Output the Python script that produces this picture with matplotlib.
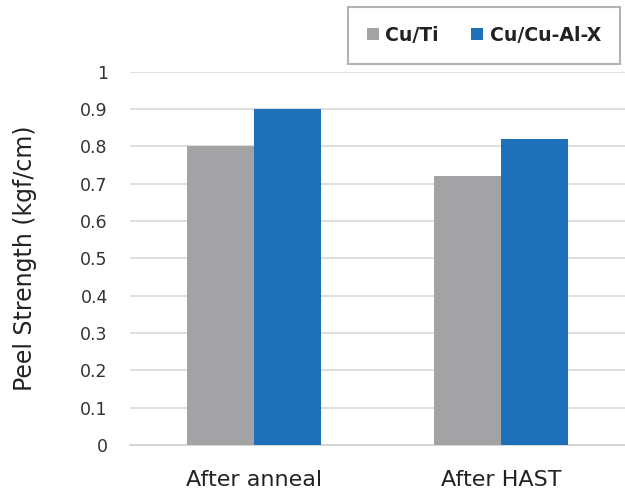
import matplotlib.pyplot as plt
import numpy as np

plt.rcParams['font.family'] = ['DejaVu Sans']

categories = ["After anneal", "After HAST"]
series_names = ["Cu/Ti", "Cu/Cu-Al-X"]
cu_ti = [0.80, 0.72]
cu_cu_al_x = [0.90, 0.82]
y_ticks = [0, 0.1, 0.2, 0.3, 0.4, 0.5, 0.6, 0.7, 0.8, 0.9, 1]
y_tick_labels = ["0", "0.1", "0.2", "0.3", "0.4", "0.5", "0.6", "0.7", "0.8", "0.9", "1"]

gray = "#A3A3A6"
blue = "#1E70B9"

fig = plt.figure(figsize=(6.25, 4.93), dpi=100)
ax = fig.add_axes([0.208, 0.0974, 0.792, 0.757])

x = np.arange(len(categories))
w = 0.27
ax.bar(x - w / 2, cu_ti, width=w, color=gray, label=series_names[0], zorder=3)
ax.bar(x + w / 2, cu_cu_al_x, width=w, color=blue, label=series_names[1], zorder=3)

ax.set_xlim(-0.5, 1.5)
ax.set_ylim(0, 1)
ax.set_yticks(y_ticks)
ax.set_yticklabels(y_tick_labels)
ax.set_xticks(x)
ax.set_xticklabels(categories, fontsize=16, color="#222222")
ax.tick_params(axis="y", length=0, pad=16, labelsize=12.5, labelcolor="#333333")
ax.tick_params(axis="x", length=0, pad=18)
ax.grid(axis="y", color="#D9D9D9", linewidth=1.2, zorder=0)
for s in ["top", "right", "left"]:
    ax.spines[s].set_visible(False)
ax.spines["bottom"].set_color("#D0D0D0")
ax.spines["bottom"].set_linewidth(1.2)

ax.set_ylabel("Peel Strength (kgf/cm)", fontsize=17, color="#222222")
ax.yaxis.set_label_coords(-0.188, 0.5)

leg = fig.legend(loc="upper right", bbox_to_anchor=(0.992, 0.986), ncol=2,
                 frameon=True, fancybox=False, handlelength=0.63, handleheight=0.63,
                 handletextpad=0.36, columnspacing=1.7, borderpad=1.0,
                 borderaxespad=0, prop={"weight": "bold", "size": 13.6})
leg.get_frame().set_edgecolor("#A0A0A0")
leg.get_frame().set_linewidth(1.5)
for t in leg.get_texts():
    t.set_color("#222222")

fig.savefig("out.png", dpi=100)
